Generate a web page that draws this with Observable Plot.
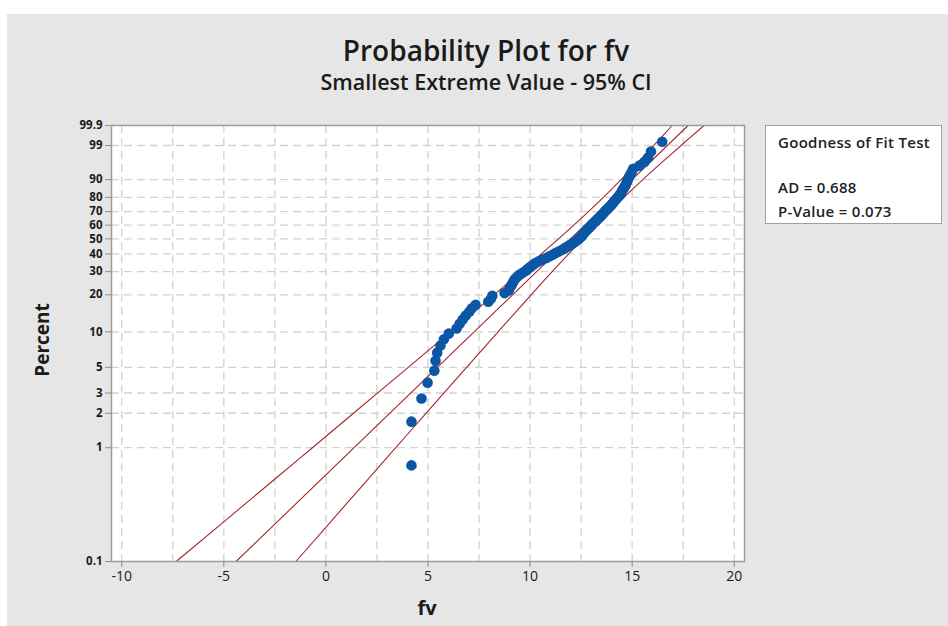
<!DOCTYPE html>
<html>
<head>
<meta charset="utf-8">
<script src="https://cdn.jsdelivr.net/npm/d3@7"></script>
<script src="https://cdn.jsdelivr.net/npm/@observablehq/plot@0.6"></script>
<style>
  html, body { margin: 0; padding: 0; width: 948px; height: 626px; background: #ffffff; overflow: hidden; }
  body { position: relative; font-family: "Open Sans", "Noto Sans", sans-serif; color: #1a1a1a; }
  #panel { position: absolute; left: 7px; top: 14px; width: 941px; height: 612px; background: #e6e6e6; }
  .title { position: absolute; left: 236px; width: 500px; text-align: center; white-space: nowrap; line-height: 1; }
  #t1 { top: 36px; font-size: 28px; font-weight: 600; }
  #t2 { top: 71px; font-size: 21.5px; font-weight: 600; }
  #chart { position: absolute; left: 0; top: 105px; }
  #ylab { position: absolute; left: 42px; top: 340px; transform: translate(-50%, -50%) rotate(-90deg); font-size: 19px; font-weight: 700; white-space: nowrap; }
  #xlab { position: absolute; left: 427px; top: 607px; transform: translate(-50%, -50%); font-size: 20px; font-weight: 700; }
  #legend { position: absolute; left: 765px; top: 125px; width: 177px; height: 99px; background: #ffffff; border: 1px solid #a0a0a0; box-sizing: border-box; font-size: 15px; font-weight: 600; color: #222; letter-spacing: 0.3px; }
  #legend div { position: absolute; left: 12px; white-space: nowrap; line-height: 1; }
</style>
</head>
<body>
<div id="panel"></div>
<div class="title" id="t1">Probability Plot for fv</div>
<div class="title" id="t2">Smallest Extreme Value - 95% CI</div>
<div id="chart"></div>
<div id="ylab">Percent</div>
<div id="xlab">fv</div>
<div id="legend">
  <div style="top:9px">Goodness of Fit Test</div>
  <div style="top:54px">AD = 0.688</div>
  <div style="top:78px">P-Value = 0.073</div>
</div>
<script>
// ---- data ----
const fvValues = [4.19, 4.19, 4.68, 4.98, 5.31, 5.37, 5.45, 5.61, 5.78, 6.02,
  6.40, 6.55, 6.70, 6.85, 7.02, 7.15, 7.33, 7.95, 8.08, 8.15,
  8.75, 8.95, 9.00, 9.08, 9.14, 9.20, 9.27, 9.38, 9.50, 9.65,
  9.80, 9.90, 10.02, 10.14, 10.25, 10.42, 10.60, 10.80, 10.95, 11.10,
  11.25, 11.40, 11.55, 11.68, 11.80, 11.92, 12.04, 12.15, 12.25, 12.35,
  12.42, 12.50, 12.55, 12.60, 12.65, 12.72, 12.78, 12.85, 12.92, 12.98,
  13.04, 13.10, 13.17, 13.24, 13.30, 13.37, 13.44, 13.50, 13.56, 13.62,
  13.68, 13.75, 13.82, 13.88, 13.95, 14.01, 14.07, 14.12, 14.19, 14.25,
  14.32, 14.38, 14.43, 14.48, 14.52, 14.58, 14.63, 14.68, 14.72, 14.76,
  14.80, 14.85, 14.92, 14.98, 15.05, 15.35, 15.60, 15.78, 15.92, 16.47];
const pointPercents = [0.70, 1.69, 2.69, 3.69, 4.68, 5.68, 6.67, 7.67, 8.67, 9.66,
  10.66, 11.65, 12.65, 13.65, 14.64, 15.64, 16.63, 17.63, 18.63, 19.62,
  20.62, 21.61, 22.61, 23.61, 24.60, 25.60, 26.59, 27.59, 28.59, 29.58,
  30.58, 31.57, 32.57, 33.57, 34.56, 35.56, 36.55, 37.55, 38.55, 39.54,
  40.54, 41.53, 42.53, 43.53, 44.52, 45.52, 46.51, 47.51, 48.51, 49.50,
  50.50, 51.49, 52.49, 53.49, 54.48, 55.48, 56.47, 57.47, 58.47, 59.46,
  60.46, 61.45, 62.45, 63.45, 64.44, 65.44, 66.43, 67.43, 68.43, 69.42,
  70.42, 71.41, 72.41, 73.41, 74.40, 75.40, 76.39, 77.39, 78.39, 79.38,
  80.38, 81.37, 82.37, 83.37, 84.36, 85.36, 86.35, 87.35, 88.35, 89.34,
  90.34, 91.33, 92.33, 93.33, 94.32, 95.32, 96.31, 97.31, 98.31, 99.30];
const fitPercents = [0.1, 99.9];
const fitFv = [-4.40, 17.74];
const ciPercents = [0.1, 0.5, 1, 2, 5, 10, 20, 30, 50, 63.2, 80, 90, 95, 99, 99.9];
const ciLowerFv = [-7.33, -2.67, -0.66, 1.35, 4.03, 6.10, 8.23, 9.55, 11.39, 12.37, 13.59, 14.46, 15.08, 16.06, 16.96];
const ciUpperFv = [-1.47, 1.94, 3.42, 4.90, 6.89, 8.43, 10.05, 11.08, 12.58, 13.43, 14.60, 15.52, 16.22, 17.39, 18.52];
const yTickPercents = [0.1, 1, 2, 3, 5, 10, 20, 30, 40, 50, 60, 70, 80, 90, 99, 99.9];
const yTickLabels = ["0.1", "1", "2", "3", "5", "10", "20", "30", "40", "50", "60", "70", "80", "90", "99", "99.9"];
const xTicks = [-10, -5, 0, 5, 10, 15, 20];
const xTickLabels = ["-10", "-5", "0", "5", "10", "15", "20"];
const xGridLines = [-10, -7.5, -5, -2.5, 0, 2.5, 5, 7.5, 10, 12.5, 15, 17.5, 20];

// smallest extreme value probability transform
const sev = p => Math.log(-Math.log(1 - p / 100));

const points = fvValues.map((x, i) => ({x, w: sev(pointPercents[i])}));
const fitLine = fitPercents.map((p, i) => ({x: fitFv[i], w: sev(p)}));
const ciLow = ciPercents.map((p, i) => ({x: ciLowerFv[i], w: sev(p)}));
const ciHigh = ciPercents.map((p, i) => ({x: ciUpperFv[i], w: sev(p)}));
const yTickW = yTickPercents.map(sev);
const yLabelOf = new Map(yTickW.map((w, i) => [w, yTickLabels[i]]));
const xLabelOf = new Map(xTicks.map((v, i) => [v, xTickLabels[i]]));
const gridW = yTickW.slice(1, -1);

const red = "#a3272b";
const plot = Plot.plot({
  width: 948,
  height: 521,
  marginTop: 20,
  marginBottom: 65,
  marginLeft: 111,
  marginRight: 204,
  style: {background: "transparent", fontFamily: "'Open Sans', 'Noto Sans', sans-serif"},
  x: {domain: [-10.5, 20.5]},
  y: {domain: [sev(0.1), sev(99.9)]},
  marks: [
    Plot.frame({fill: "#ffffff", stroke: "none"}),
    Plot.ruleX(xGridLines, {stroke: "#d2d2d2", strokeDasharray: "8,5", strokeWidth: 1.3}),
    Plot.ruleY(gridW, {stroke: "#d2d2d2", strokeDasharray: "8,5", strokeWidth: 1.3}),
    Plot.line(ciLow, {x: "x", y: "w", curve: "catmull-rom", stroke: red, strokeWidth: 1.1}),
    Plot.line(ciHigh, {x: "x", y: "w", curve: "catmull-rom", stroke: red, strokeWidth: 1.1}),
    Plot.line(fitLine, {x: "x", y: "w", stroke: red, strokeWidth: 1.1}),
    Plot.dot(points, {x: "x", y: "w", r: 5.3, fill: "#0b57a6", stroke: "none"}),
    Plot.frame({stroke: "#9c9c9c", strokeWidth: 1.5}),
    Plot.axisX(xTicks, {tickSize: 6, tickPadding: 4, fontSize: 14, fontWeight: 500, stroke: "#8c8c8c", fill: "#1a1a1a", label: null, tickFormat: v => xLabelOf.get(v)}),
    Plot.axisY(yTickW, {tickSize: 6, tickPadding: 3, fontSize: 11.5, fontWeight: 700, stroke: "#8c8c8c", fill: "#1a1a1a", label: null, tickFormat: w => yLabelOf.get(w), style: {letterSpacing: "1px", fontFamily: "'Liberation Sans', Arial, sans-serif"}})
  ]
});
document.getElementById("chart").appendChild(plot);
</script>
</body>
</html>
